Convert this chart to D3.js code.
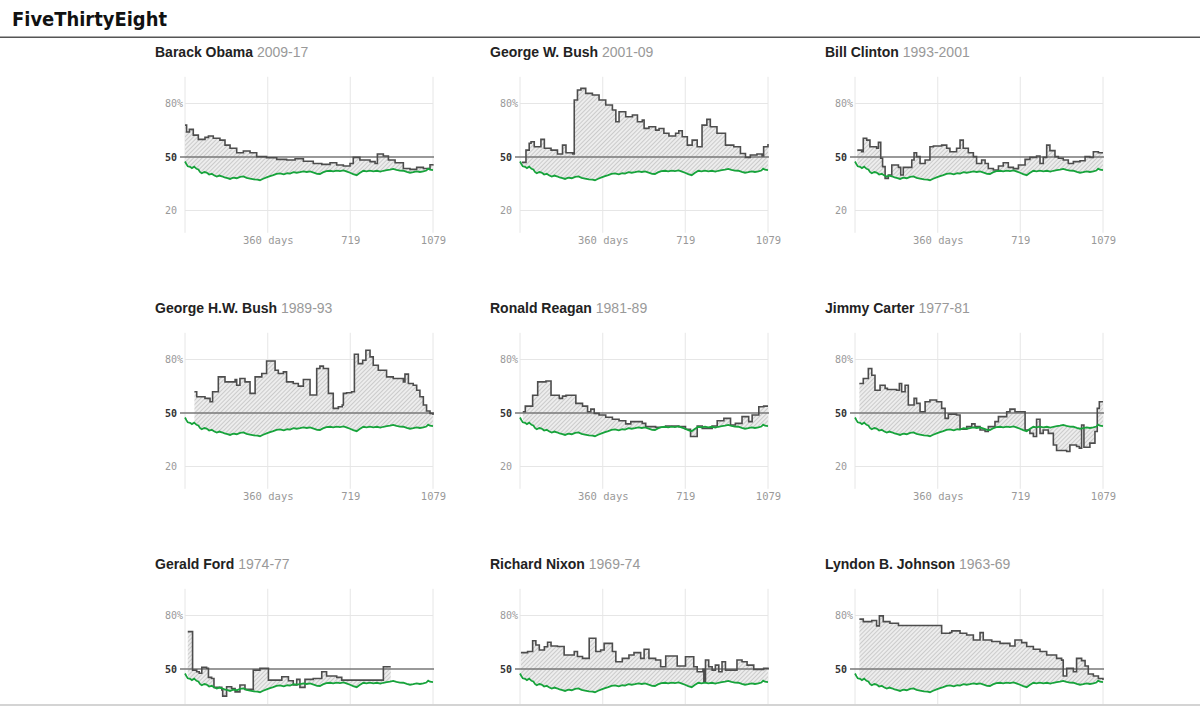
<!DOCTYPE html>
<html>
<head>
<meta charset="utf-8">
<script src="https://cdn.jsdelivr.net/npm/d3@7"></script>
<style>
  body { margin: 0; background: #fff; overflow: hidden; }
  svg { display: block; }
  .axis text { font-family: "DejaVu Sans Mono", monospace; font-size: 10px; fill: #999; }
</style>
</head>
<body>
<svg></svg>
<script>
// day of term, approval %
const names = ['Barack Obama', 'George W. Bush', 'Bill Clinton', 'George H.W. Bush', 'Ronald Reagan',
  'Jimmy Carter', 'Gerald Ford', 'Richard Nixon', 'Lyndon B. Johnson'];
const terms = ['2009-17', '2001-09', '1993-2001', '1989-93', '1981-89', '1977-81', '1974-77', '1969-74', '1963-69'];
const dayTicks = [360, 719, 1079];
const pctTicks = [20, 50, 80];

// green line, repeated in every panel
const trump = [[0,47.5],[6,46],[12,44.8],[22,44.5],[30,43.8],[40,44.6],[50,43.4],[58,43],[66,41.5],[73,40.9],
  [84,41.6],[94,41.3],[105,40.2],[116,40.6],[128,39.6],[138,39],[150,39.6],[160,39.2],[172,38.6],[185,38.2],
  [196,37.7],[210,38.4],[225,38.1],[240,38.9],[254,39.1],[268,38.3],[283,37.9],[300,37.5],[315,37.3],[326,37],
  [340,37.8],[355,38.6],[370,39.3],[384,39.9],[398,40.6],[413,40.8],[430,40.3],[445,40.9],[457,40.7],[472,41.5],
  [486,41.2],[500,41.5],[515,41.9],[530,41.6],[544,41.9],[560,41.3],[575,40.6],[587,40.5],[600,41.4],[615,42.1],
  [631,42.3],[645,42],[660,42.4],[674,42.1],[690,42.5],[705,41.8],[718,41.2],[732,40.4],[747,39.8],[760,41],
  [776,42.3],[790,42],[805,42.4],[819,42],[835,42.3],[850,41.8],[863,42.3],[878,42.6],[892,42.9],[906,43.3],
  [920,42.8],[935,42.4],[950,42.3],[965,41.7],[979,41.2],[993,41.5],[1008,41.9],[1022,41.6],[1037,41.9],
  [1050,42.4],[1058,43.5],[1066,42.9],[1079,42.7]];

const obama = [[0,67.9],[7,64],[19,65.5],[36,62.3],[58,59.9],[87,61],[102,61.8],[123,60.5],[152,59.5],[174,56.7],
  [196,54.9],[225,52.4],[254,53.4],[283,52.4],[312,50.2],[355,49.6],[399,48.7],[442,48.3],[479,49],[515,47.6],
  [558,46.4],[595,45.9],[631,46.8],[660,45.5],[689,45],[718,46.4],[732,49.8],[761,48.3],[805,47.4],[827,46.4],
  [837,51.7],[863,50.6],[885,48.3],[914,46.8],[950,43.6],[979,43.1],[1008,44.2],[1037,43.6],[1066,45.7],[1079,45.9]];

const bushW = [[8,47],[26,53.9],[40,57.7],[48,58.6],[62,55.8],[91,59.9],[106,54.9],[135,53.9],[163,51.7],
  [185,56.7],[200,52.4],[229,51.7],[236,82],[250,87.6],[265,88.5],[286,85.7],[315,84.8],[344,82],[373,79.2],
  [402,76.4],[417,69.8],[431,75.4],[460,72.6],[489,73.6],[511,69.8],[532,70.7],[540,66.1],[561,67],[590,65.1],
  [605,66],[626,63.3],[648,61.8],[677,63.3],[691,64.7],[706,61.4],[728,56.7],[749,59.5],[771,55.8],[792,67.9],
  [813,71.1],[828,67],[857,63.3],[894,56.7],[930,55.8],[959,52],[981,49.8],[1002,51.1],[1031,51.7],[1053,50.6],
  [1060,55.8],[1079,57.3]];

const clinton = [[10,53.9],[29,53],[36,60.5],[51,59.5],[65,55.8],[94,54.9],[102,58.2],[112,49.3],[120,44.6],
  [131,38],[145,39.9],[160,45.5],[189,44.2],[199,39.9],[210,44.2],[239,44.2],[247,48.3],[257,52.4],[268,50.2],
  [283,46.4],[305,48.3],[326,55.8],[341,56.2],[377,56.7],[399,54.9],[413,53],[442,54.9],[457,59.5],[471,54.9],
  [493,52.4],[515,50.2],[529,46.4],[551,48.3],[566,46.4],[580,43.6],[602,42.7],[624,45],[645,46.8],[667,44.2],
  [689,43.5],[711,45.5],[740,48.7],[761,49.8],[790,50.6],[805,46.4],[819,49.8],[834,56.7],[848,53.6],[870,50.2],
  [885,49.3],[906,48.3],[928,46.4],[950,47.4],[979,47.9],[1001,50.2],[1022,49.8],[1037,53],[1059,52.4],[1079,52.4]];

const bushHW = [[41,61.9],[51,59.1],[87,58.2],[109,56.3],[120,61.9],[145,70.3],[174,67.5],[218,68.8],[225,65.6],
  [239,69.4],[261,67.5],[283,61],[305,70.3],[334,72.2],[355,79.2],[392,74],[406,72.2],[428,73.1],[442,67.5],
  [471,66.6],[493,65.1],[515,68.8],[544,60.1],[573,75],[587,76.3],[602,75],[624,61],[645,52.6],[667,53.5],
  [684,54.5],[689,61],[703,61.4],[725,61.9],[737,83],[754,77.7],[773,79.6],[787,85.2],[805,81.5],[819,76.8],
  [841,74],[877,70.3],[906,69.4],[928,69.4],[950,67.5],[957,71.8],[972,66.6],[993,65.6],[1008,62.8],[1022,59.1],
  [1037,54.5],[1051,51.1],[1066,49.8],[1079,48.9]];

const reagan = [[12,50.7],[23,53.9],[55,60],[77,67.5],[113,68],[135,60],[171,58.2],[185,59.5],[200,60],
  [243,55.4],[272,53.9],[294,50.7],[308,52.2],[323,49.8],[344,48.9],[373,47.6],[402,46.5],[431,45.7],[460,43.9],
  [482,45.2],[532,44.2],[547,42.4],[590,42],[634,42.7],[691,42.4],[720,40.9],[742,36.8],[771,42.7],[793,41.4],
  [836,42.7],[858,45.7],[887,47],[916,43.3],[937,44.2],[966,48],[995,45.2],[1010,48.9],[1039,53.5],[1060,53.9],
  [1079,53.9]];

const carter = [[19,66.6],[36,69.4],[58,75],[73,71.2],[87,62.8],[109,65.6],[131,63.8],[141,63.2],[181,62.8],
  [193,66.6],[203,61.9],[218,65.6],[232,54.5],[257,58.2],[268,55.4],[283,50.7],[305,56.3],[326,57.3],[355,56.3],
  [377,52.6],[392,47],[406,49.4],[442,48.9],[457,40.9],[486,42.4],[508,43.9],[522,42.4],[544,40.5],[566,39.6],
  [580,42.4],[609,45.2],[624,48],[660,50.7],[674,52.2],[696,50.7],[740,40.5],[761,38.6],[776,36.8],[790,46.5],
  [805,38.6],[819,40.5],[841,38.6],[863,32.1],[877,29],[921,28.4],[935,32.1],[964,31.2],[976,30.3],[986,43.3],
  [996,30.8],[1022,33.1],[1044,39.6],[1054,52.6],[1063,56.3],[1079,56.3]];

const ford = [[12,71],[33,49.4],[51,48.5],[62,47.6],[73,50.9],[94,50.4],[102,45.3],[116,44.7],[126,39.7],
  [160,38.2],[164,34.8],[181,40.1],[203,39.1],[218,37.2],[239,41],[261,38.6],[297,49.4],[326,50.4],[363,43.8],
  [421,45.7],[450,43.4],[471,41],[486,44.2],[500,39.7],[522,44.2],[558,44.7],[595,48.5],[616,46.1],[660,45.3],
  [682,43.8],[863,51.3],[895,51.3]];

const nixon = [[4,59.2],[33,59.8],[55,65.9],[69,63.5],[84,60.7],[106,62.5],[120,65],[135,62.9],[163,62.6],
  [185,62.6],[192,57.9],[236,59.8],[250,57],[272,56],[301,67.3],[330,59.8],[351,60.7],[366,64.4],[402,59.8],
  [417,54.1],[445,56],[474,57.9],[496,59.2],[525,56],[540,61.1],[561,56],[590,55.1],[612,51.3],[634,57.3],
  [684,51.7],[720,56.9],[756,51.3],[771,48.5],[796,49.8],[800,42.9],[807,55.1],[821,51.3],[836,49.4],[850,52.2],
  [865,48.5],[879,54.1],[894,49.4],[923,49.4],[944,55.1],[966,54.1],[988,52.2],[1017,49.8],[1060,50.4],[1079,50.8]];

const johnson = [[19,78],[36,76.6],[73,77.2],[94,74.2],[106,79.8],[123,76.6],[152,75.7],[189,74.4],[370,74.4],
  [377,70.1],[413,70.5],[421,71.4],[457,70.1],[486,69.1],[515,66.3],[544,70.4],[558,66.3],[595,65.4],[631,64.4],
  [674,62.9],[696,66.3],[725,64.8],[747,62.6],[776,61.1],[805,59.8],[834,57.9],[877,56],[899,55],[906,46.1],
  [921,50.4],[950,48.5],[964,56],[986,54.7],[1001,51.7],[1015,47.2],[1037,46.1],[1059,44.7],[1079,43.8]];

const series = [obama, bushW, clinton, bushHW, reagan, carter, ford, nixon, johnson];

const width = 1200;
const height = 706;

const svg = d3.select('svg')
  .attr('width', width)
  .attr('height', height);

const defs = svg.append('defs');
const pattern = defs.append('pattern')
  .attr('id', 'hatch')
  .attr('width', 3)
  .attr('height', 3)
  .attr('patternUnits', 'userSpaceOnUse')
  .attr('patternTransform', 'rotate(45)');
pattern.append('rect').attr('width', 3).attr('height', 3).attr('fill', '#ededed');
pattern.append('line')
  .attr('x1', 0).attr('y1', 0).attr('x2', 0).attr('y2', 3)
  .attr('stroke', '#b4b4b4')
  .attr('stroke-width', 1.2);

// header
svg.append('text')
  .attr('x', 12)
  .attr('y', 26)
  .attr('textLength', 155)
  .attr('lengthAdjust', 'spacingAndGlyphs')
  .style('font-family', '"DejaVu Sans Condensed", "DejaVu Sans", sans-serif')
  .style('font-weight', 'bold')
  .style('font-size', '20px')
  .style('fill', '#111')
  .text('FiveThirtyEight');

svg.append('rect')
  .attr('x', 0).attr('y', 36.5)
  .attr('width', width).attr('height', 1.5)
  .attr('fill', '#555');

const colW = 335;
const rowH = 256;
const plotW = 248;
const plotH = 156;

const x = d3.scaleLinear().domain([0, 1079]).range([0, plotW]);
const y = d3.scaleLinear().domain([7.5, 95]).range([plotH, 0]);

const greenAt = d3.scaleLinear()
  .domain(trump.map(d => d[0]))
  .range(trump.map(d => d[1]))
  .clamp(true);

function stepAt(data, day) {
  let v = data[0][1];
  for (const p of data) {
    if (p[0] <= day) v = p[1];
    else break;
  }
  return v;
}

const presLine = d3.line()
  .x(d => x(d[0]))
  .y(d => y(d[1]))
  .curve(d3.curveStepAfter);

const greenLine = d3.line()
  .x(d => x(d[0]))
  .y(d => y(d[1]));

const gap = d3.area()
  .x(d => x(d[0]))
  .y0(d => y(d[2]))
  .y1(d => y(d[1]));

series.forEach((data, i) => {
  const col = i % 3;
  const row = Math.floor(i / 3);
  const top = 76.8 + row * rowH;
  const g = svg.append('g')
    .attr('transform', `translate(${185 + col * colW},${top})`);

  const title = g.append('text')
    .attr('x', -30)
    .attr('y', -20)
    .style('font-family', '"Liberation Sans", Arial, sans-serif')
    .style('font-size', '14px');
  title.append('tspan').style('font-weight', 'bold').style('fill', '#222').text(names[i]);
  title.append('tspan').style('fill', '#999').text(' ' + terms[i]);

  // grid
  g.selectAll('.vgrid')
    .data([0].concat(dayTicks))
    .join('line')
    .attr('x1', d => x(d)).attr('x2', d => x(d))
    .attr('y1', 0).attr('y2', plotH)
    .attr('stroke', '#e6e6e6');

  g.selectAll('.hgrid')
    .data([20, 80])
    .join('line')
    .attr('x1', 0).attr('x2', plotW)
    .attr('y1', d => y(d)).attr('y2', d => y(d))
    .attr('stroke', '#e6e6e6');

  // the bottom row runs off the page, so only the labels that fit are drawn
  const fits = top + plotH + 14 < height;
  if (fits) {
    const xAxis = g.append('g')
      .attr('class', 'axis')
      .attr('transform', `translate(0,${plotH})`)
      .call(d3.axisBottom(x).tickValues(dayTicks).tickSize(0).tickPadding(4)
        .tickFormat(d => d === 360 ? '360 days' : d));
    xAxis.select('.domain').remove();
    xAxis.selectAll('text').style('font-size', '10.5px');
  }

  const yAxis = g.append('g')
    .attr('class', 'axis')
    .call(d3.axisLeft(y).tickValues(pctTicks.filter(t => top + y(t) + 8 < height)).tickSize(0)
      .tickFormat(d => d === 80 ? '80%' : d));
  yAxis.select('.domain').remove();
  yAxis.selectAll('text')
    .attr('x', -20)
    .attr('text-anchor', 'start')
    .style('fill', d => d === 50 ? '#333' : '#999')
    .style('font-weight', d => d === 50 ? 'bold' : 'normal');

  // hatched gap between the two lines
  const first = data[0][0];
  const last = data[data.length - 1][0];
  const pts = d3.range(first, last + 1).map(day => [day, stepAt(data, day), greenAt(day)]);
  g.append('path')
    .attr('d', gap(pts))
    .attr('fill', 'url(#hatch)');

  g.append('line')
    .attr('x1', -5).attr('x2', plotW + 1)
    .attr('y1', y(50)).attr('y2', y(50))
    .attr('stroke', '#777')
    .attr('stroke-width', 1.5);

  g.append('path')
    .attr('d', presLine(data))
    .attr('fill', 'none')
    .attr('stroke', '#4d4d4d')
    .attr('stroke-width', 1.6);

  g.append('path')
    .attr('d', greenLine(trump))
    .attr('fill', 'none')
    .attr('stroke', '#17a33b')
    .attr('stroke-width', 1.8);
});

// bottom edge of the page
svg.append('rect')
  .attr('x', 0).attr('y', 704)
  .attr('width', width).attr('height', 2)
  .attr('fill', '#d4d4d4');
</script>
</body>
</html>
